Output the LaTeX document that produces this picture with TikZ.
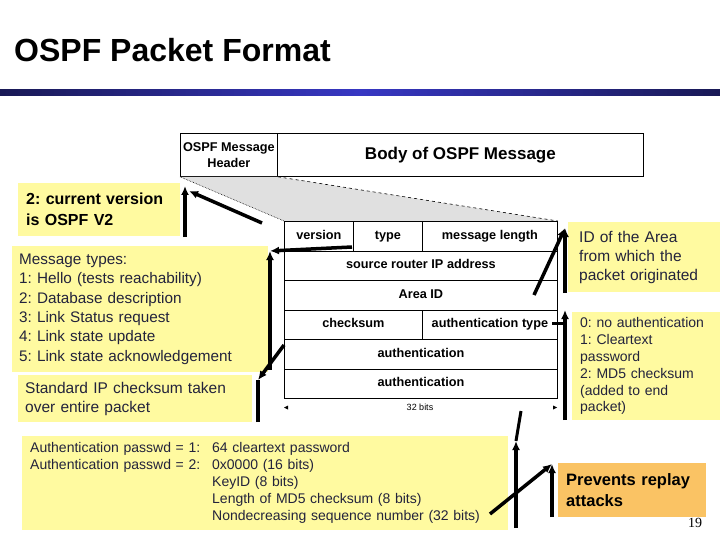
\documentclass[tikz,border=0pt]{standalone}
\usepackage{fontspec}
\setmainfont{Liberation Sans}
\newfontfamily\pgnumfont{Liberation Serif}
\usetikzlibrary{arrows.meta}
\definecolor{noteyellow}{RGB}{255,250,160}
\definecolor{noteorange}{RGB}{250,195,100}
\definecolor{bardark}{RGB}{25,25,85}
\definecolor{barmid}{RGB}{55,55,195}
\definecolor{fadegrey}{RGB}{224,224,224}
\definecolor{notetext}{RGB}{35,35,60}
\frenchspacing
\begin{document}
\begin{tikzpicture}[x=1pt,y=-1pt,
  note/.style={fill=noteyellow, anchor=north west, inner ysep=0pt, align=left, text=notetext},
  cell/.style={draw, line width=0.8pt, anchor=north west, minimum height=29.5pt, inner sep=0pt,
               text height=9.2pt, text depth=2.6pt,
               font=\fontsize{12.7}{15}\selectfont\bfseries},
  arr/.style={line width=3.5pt, -{Latex[length=9pt,width=8pt]}},
  ln/.style={line width=3.5pt}
]
\useasboundingbox (0,0) rectangle (720,540);
\fill[white] (0,0) rectangle (720,540);

% title and bar
\node[anchor=base west, inner sep=0pt, font=\fontsize{32}{38}\selectfont\bfseries] (title) at (14,62) {OSPF Packet Format};
\shade[left color=bardark, right color=bardark, middle color=barmid] (0,90) rectangle (720,96);

% header strip
\node[draw, line width=0.8pt, anchor=north west, minimum width=97pt, minimum height=43pt, inner sep=0pt,
      align=center, font=\fontsize{12.7}{16}\selectfont\bfseries] (hdr) at (180,133) {OSPF Message\\Header};
\node[draw, line width=0.8pt, anchor=north west, minimum width=366pt, minimum height=43pt, inner sep=0pt,
      font=\fontsize{17}{20}\selectfont\bfseries] (body) at (277,133) {Body of OSPF Message};

% table
\node[cell, minimum width=69pt] (ver) at (284,221) {version};
\node[cell, minimum width=69pt] (typ) at (353,221) {type};
\node[cell, minimum width=135pt] (mlen) at (422,221) {message length};
\node[cell, minimum width=273pt] (src) at (284,250.5) {source router IP address};
\node[cell, minimum width=273pt] (area) at (284,280) {Area ID};
\node[cell, minimum width=138pt] (cks) at (284,309.5) {checksum};
\node[cell, minimum width=135pt] (atype) at (422,309.5) {authentication type};
\node[cell, minimum width=273pt] (auth1) at (284,339) {authentication};
\node[cell, minimum width=273pt] (auth2) at (284,368.5) {authentication};

% projection of header onto table
\fill[fadegrey] (hdr.south west) -- (hdr.south east) -- (mlen.north east) -- (ver.north west) -- cycle;
\draw[densely dotted, line width=0.6pt] (hdr.south west) -- (ver.north west);
\draw[dashed, line width=0.6pt] (hdr.south east) -- (mlen.north east);
\draw[line width=0.8pt] (ver.north west) -- (mlen.north east);

% 32 bits
\node[font=\fontsize{9}{10}\selectfont, inner sep=1pt] (bits) at (420,407) {32 bits};
\fill (284,407.5) -- +(4,-2) -- +(4,2) -- cycle;
\fill (557,407.5) -- +(-4,-2) -- +(-4,2) -- cycle;

% notes
\node[note, inner xsep=8pt, text width=146pt, minimum height=53pt, text=black,
      font=\fontsize{16}{21}\selectfont\bfseries] (v2note) at (18,183) {2: current version\\is OSPF V2};
\node[note, inner xsep=7pt, text width=242pt, minimum height=126pt,
      font=\fontsize{15.3}{19.4}\selectfont] (tynote) at (12,246)
      {Message types:\\1: Hello (tests reachability)\\2: Database description\\3: Link Status request\\4: Link state update\\5: Link state acknowledgement};
\node[note, inner xsep=7pt, text width=220pt, minimum height=47pt,
      font=\fontsize{15.5}{19}\selectfont] (csnote) at (18,375)
      {Standard IP checksum taken\\over entire packet};
\node[note, inner xsep=8pt, text width=470pt, minimum height=94pt,
      font=\fontsize{14}{16.8}\selectfont] (pwnote) at (22,436)
      {\begin{tabular}{@{}p{182pt}@{}l@{}}
       Authentication passwd = 1: & 64 cleartext password\\
       Authentication passwd = 2: & 0x0000 (16 bits)\\
        & KeyID (8 bits)\\
        & Length of MD5 checksum (8 bits)\\
        & Nondecreasing sequence number (32 bits)
       \end{tabular}};
\node[note, inner xsep=11pt, text width=130pt, minimum height=70pt,
      font=\fontsize{15.5}{19}\selectfont] (arnote) at (568,222)
      {ID of the Area\\from which the\\packet originated};
\node[note, inner xsep=8pt, text width=132pt, minimum height=108pt,
      font=\fontsize{14}{16.8}\selectfont] (atnote) at (572,312)
      {0: no authentication\\1: Cleartext\\password\\2: MD5 checksum\\(added to end\\packet)};
\node[note, fill=noteorange, inner xsep=8pt, text width=132pt, minimum height=54pt, text=black,
      font=\fontsize{16.5}{21}\selectfont\bfseries] (rpnote) at (558,463)
      {Prevents replay\\attacks};

% page number
\node[anchor=base west, inner sep=0pt, font=\pgnumfont\fontsize{14}{16}\selectfont] (pg) at (688,527) {19};

% connector points
\coordinate (v2from) at (262,223);
\coordinate (v2tipA) at (189,191);
\coordinate (v2tipB) at (185,186);
\coordinate (v2foot) at (185,237);
\coordinate (tyfrom) at (352,247);
\coordinate (tytip) at (270,251);
\coordinate (tyfoot) at (270,370);
\coordinate (csfrom) at (284,345);
\coordinate (cstip) at (258,380);
\coordinate (csfoot) at (258,422);
\coordinate (arfrom) at (534,295);
\coordinate (artip) at (565,228);
\coordinate (arfoot) at (565,293);
\coordinate (atfrom) at (552,323);
\coordinate (atjoin) at (565,323);
\coordinate (attip) at (565,310);
\coordinate (atfoot) at (565,420);
\coordinate (aufrom) at (521,411);
\coordinate (autip) at (516,441);
\coordinate (aufoot) at (516,528);
\coordinate (rpfrom) at (490,514);
\coordinate (rptip) at (552,464);
\coordinate (rpfoot) at (552,517);

% connectors
\draw[arr] (v2from) -- (v2tipA);
\draw[arr] (v2foot) -- (v2tipB);
\draw[arr] (tyfrom) -- (tytip);
\draw[arr] (tyfoot) -- (tytip);
\draw[arr] (csfrom) -- (cstip);
\draw[ln] (csfoot) -- (cstip);
\draw[arr] (arfrom) -- (artip);
\draw[arr] (arfoot) -- (artip);
\draw[ln, line width=3pt] (atfrom) -- (atjoin);
\draw[arr] (atfoot) -- (attip);
\draw[ln, line width=3pt] (aufrom) -- (autip);
\draw[arr] (aufoot) -- (autip);
\draw[arr] (rpfrom) -- (rptip);
\draw[arr] (rpfoot) -- (rptip);
\end{tikzpicture}
\end{document}
